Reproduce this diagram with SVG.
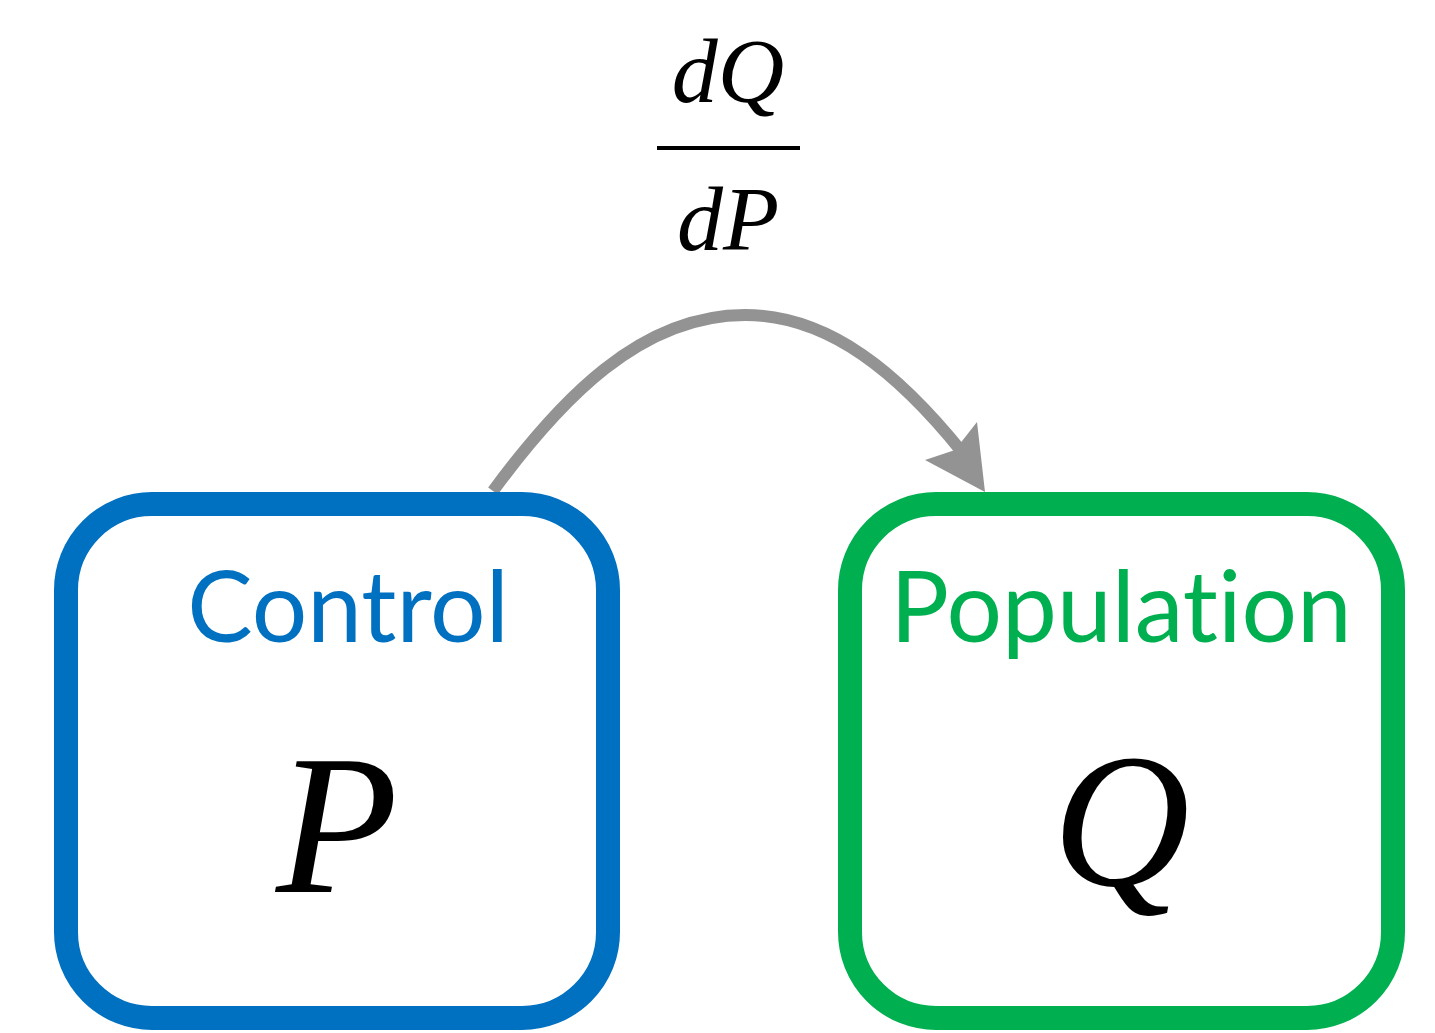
<svg xmlns="http://www.w3.org/2000/svg" width="1435" height="1033" viewBox="0 0 1435 1033">
<style>
.box{fill:#fff;stroke-width:24}
.lbl{font-family:"Lato","Open Sans",sans-serif;font-size:98px;font-weight:400;text-anchor:middle;font-variant-ligatures:none;font-feature-settings:"liga" 0}
.math{font-family:"Liberation Serif",serif;font-style:italic;fill:#000;text-anchor:middle}
</style>
<rect width="1435" height="1033" fill="#fff"/>
<g id="connectors">
<path d="M 493 491 C 560 400 640 315 745 315 C 830 315 900 375 962 452" fill="none" stroke="#939393" stroke-width="12"/>
<polygon points="985,492 925,460 955,450 977,422" fill="#939393"/>
</g>
<g id="edge-label">
<text class="math" x="728" y="102" font-size="92">dQ</text>
<line x1="657" y1="148" x2="800" y2="148" stroke="#000" stroke-width="4"/>
<text class="math" x="728" y="250" font-size="92">dP</text>
</g>
<g id="control">
<rect class="box" x="66" y="504" width="542" height="514" rx="86" stroke="#0070C0"/>
<text class="lbl" x="348" y="642" fill="#0070C0">Control</text>
<text class="math" x="337" y="892" font-size="200">P</text>
</g>
<g id="population">
<rect class="box" x="850" y="504" width="543" height="514" rx="86" stroke="#00B050"/>
<text class="lbl" x="1121" y="642" fill="#00B050">Population</text>
<text class="math" x="1121" y="885" font-size="190">Q</text>
</g>
</svg>
